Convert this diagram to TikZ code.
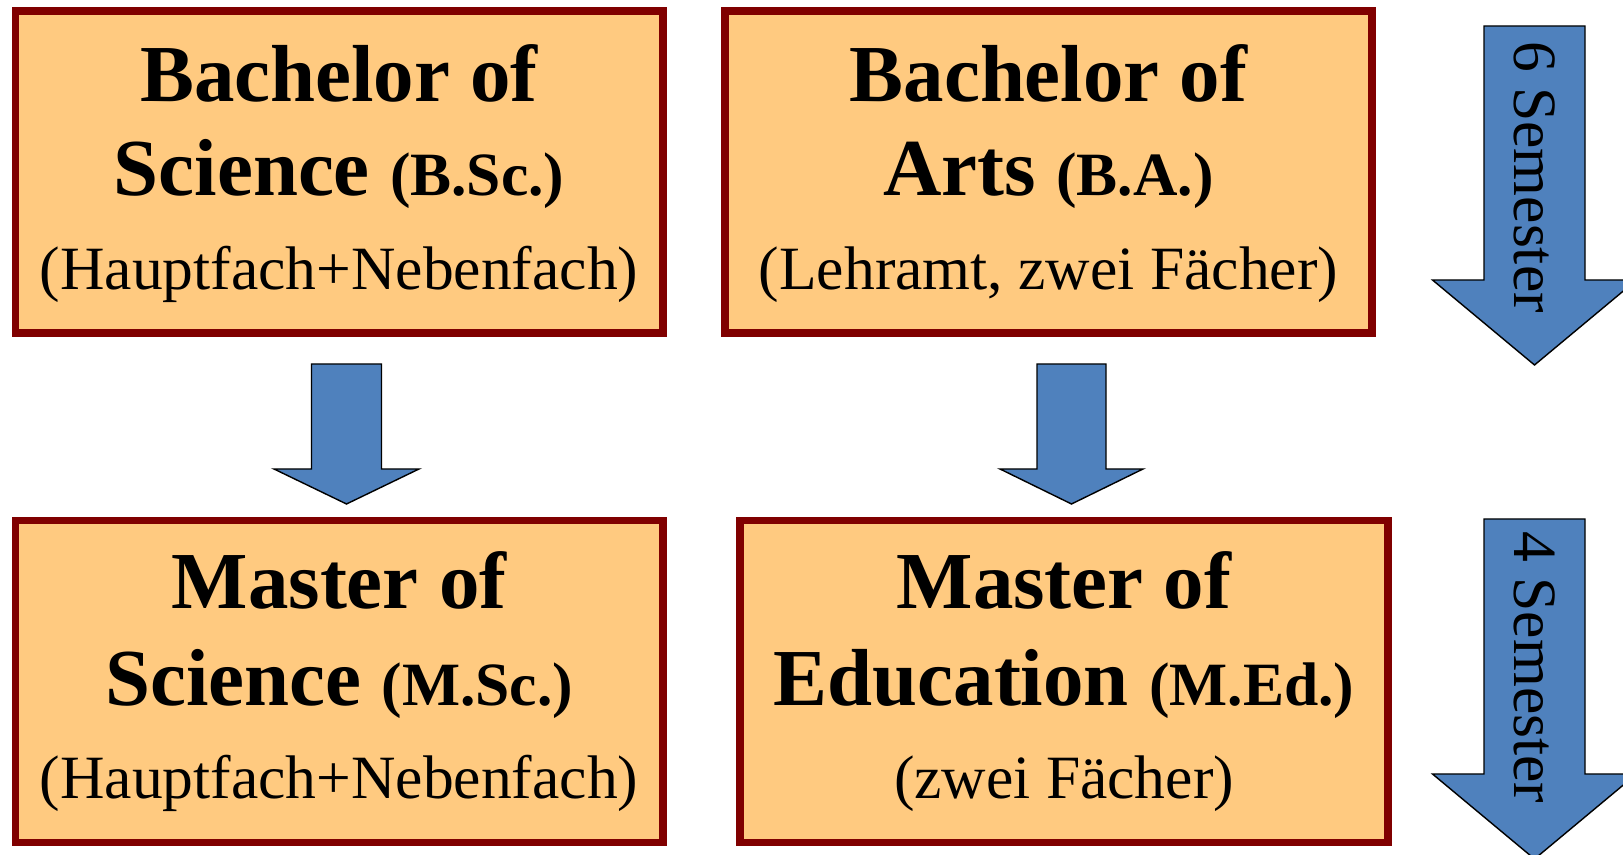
\documentclass[tikz,border=0pt]{standalone}
\usepackage{fontspec}
\setmainfont{Liberation Serif}
\definecolor{boxfill}{HTML}{FFCA80}
\definecolor{boxborder}{HTML}{800000}
\definecolor{arrowblue}{HTML}{4F81BD}
\tikzset{
  degreebox/.style={draw=boxborder, fill=boxfill, line width=2.19pt, inner sep=0pt,
    minimum width=6.471cm, minimum height=3.22cm},
  mainline/.style={anchor=base, inner sep=0pt, font=\fontsize{23}{27}\selectfont\bfseries},
  subline/.style={anchor=base, inner sep=0pt, font=\fontsize{17.5}{21}\selectfont},
  blockarrow/.style={draw=black, fill=arrowblue, line width=0.4pt, line join=miter},
  semtext/.style={rotate=-90, inner sep=0pt, font=\fontsize{17.5}{21}\selectfont},
}
\newcommand{\abbr}[1]{{\fontsize{17.5}{21}\selectfont #1}}
\newcommand{\mydownarrow}[6]{%
  \draw[blockarrow] ({#1-#5},#2) -- ({#1+#5},#2) -- ({#1+#5},#3) -- ({#1+#6},#3)
    -- (#1,#4) -- ({#1-#6},#3) -- ({#1-#5},#3) -- cycle;}
\begin{document}
\begin{tikzpicture}[x=0.01cm, y=-0.01cm]
\useasboundingbox (0,0) rectangle (1623,855);

% boxes
\node[degreebox] (bsc) at (339.1,172.25) {};
\node[degreebox] (ba)  at (1048.5,172.25) {};
\node[degreebox] (msc) at (339.1,681.5) {};
\node[degreebox] (med) at (1064,681.5) {};

% texts
\node[mainline] (bsc-a) at (339.1,102) {Bachelor of};
\node[mainline] (bsc-b) at (339.1,196) {Science \abbr{(B.Sc.)}};
\node[subline]  (bsc-c) at (339.1,290) {(Hauptfach+Nebenfach)};

\node[mainline] (ba-a) at (1048.5,102) {Bachelor of};
\node[mainline] (ba-b) at (1048.5,196) {Arts \abbr{(B.A.)}};
\node[subline]  (ba-c) at (1048.5,290) {(Lehramt, zwei Fächer)};

\node[mainline] (msc-a) at (339.1,609) {Master of};
\node[mainline] (msc-b) at (339.1,706) {Science \abbr{(M.Sc.)}};
\node[subline]  (msc-c) at (339.1,799) {(Hauptfach+Nebenfach)};

\node[mainline] (med-a) at (1064,609) {Master of};
\node[mainline] (med-b) at (1064,706) {Education \abbr{(M.Ed.)}};
\node[subline]  (med-c) at (1064,799) {(zwei Fächer)};

% block arrows between boxes
\mydownarrow{346.5}{364}{469}{504}{35}{72.5}
\mydownarrow{1071.5}{364}{469}{504}{34.5}{71.5}

% semester arrows
\mydownarrow{1534.5}{26}{280}{365}{50.5}{102}
\mydownarrow{1534.5}{519}{774}{859}{50.5}{102}
\node[semtext] (sem6) at (1534.5,177) {6 Semester};
\node[semtext] (sem4) at (1534.5,667.5) {4 Semester};
\end{tikzpicture}
\end{document}
